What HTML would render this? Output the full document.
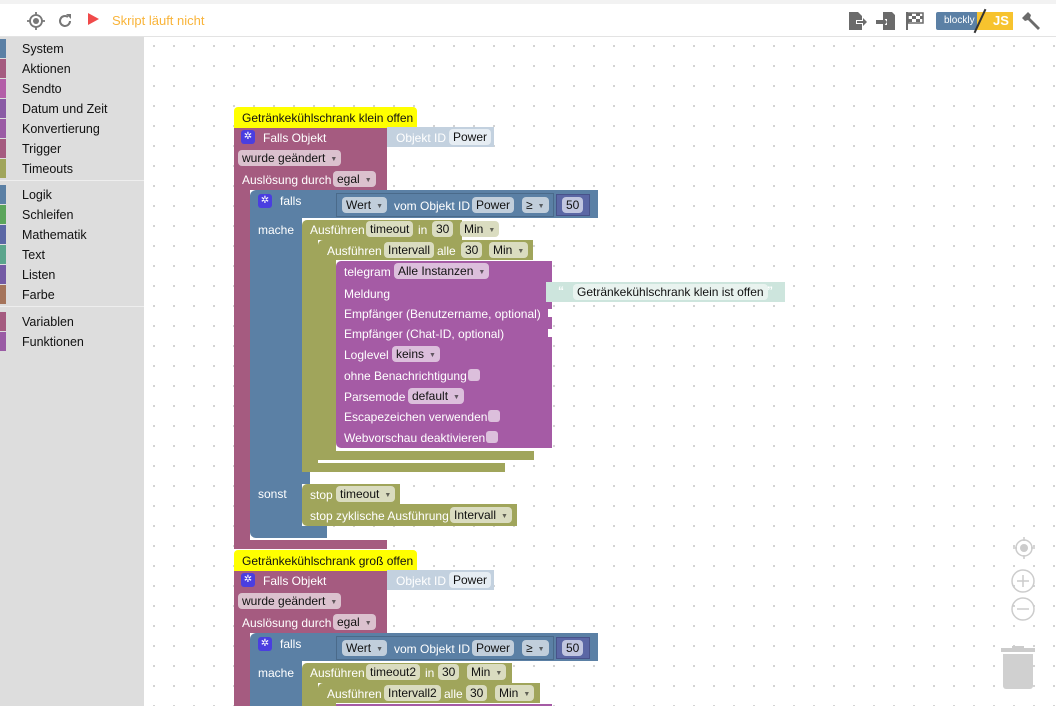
<!DOCTYPE html>
<html style="overflow:hidden"><head><meta charset="utf-8"><style>
*{box-sizing:border-box;margin:0;padding:0}
html,body{width:1056px;height:706px;overflow:hidden}
body{position:relative;background:#fff;font-family:"Liberation Sans",Arial,sans-serif;font-size:12px}
.a{position:absolute}
#ws{position:absolute;left:144px;top:37px;right:0;bottom:0;background-color:#fff;background-image:radial-gradient(circle,#ccc 0.9px,transparent 1.2px);background-size:20px 20px;background-position:0px -1px}
#top{position:absolute;left:0;top:4px;width:1056px;height:33px;background:#fff;border-bottom:1px solid #e3e3e3}
#strip{position:absolute;left:0;top:0;width:1056px;height:4px;background:#f2f2f2}
#side{position:absolute;left:0;top:37px;width:144px;height:669px;background:#dddddd}
.cat{position:absolute;left:0;height:20px;width:144px}
.cat i{position:absolute;left:0;top:0;width:6px;height:19px}
.cat span{position:absolute;left:22px;top:3px;font-size:12.5px;color:#111}
.sep{position:absolute;left:0;width:144px;height:1px;background:#eee}
.t{position:absolute;color:#fff;font-size:12px;white-space:nowrap;line-height:14px}
.f{position:absolute;height:16px;border-radius:4px;color:#111;font-size:12px;line-height:16px;padding:0 4px;white-space:nowrap}
.f b{font-weight:normal;font-size:7px;margin-left:5px;opacity:.6;vertical-align:1px}
.m{background:#a55b80}.bl{background:#5b80a5}.ol{background:#a0a55b}.pu{background:#a55ba5}
.fm{background:#dbc1ce}.fb{background:#c1cedb}.fo{background:#dadcc0}.fp{background:#dcbfdc}
.gear{position:absolute;width:14px;height:14px;background:#4a3ee0;border-radius:3px;color:#fff;font-size:10px;line-height:14px;text-align:center}
.cb{position:absolute;width:12px;height:12px;background:#dcbfdc;border-radius:3px}
</style></head><body>
<div id="ws"></div>
<div id="strip"></div>
<div id="top">
 <svg class="a" style="left:26px;top:7px" width="20" height="20" viewBox="0 0 20 20"><circle cx="10" cy="10" r="6" fill="none" stroke="#777" stroke-width="1.8"/><circle cx="10" cy="10" r="3" fill="#777"/><path d="M10 1v3M10 16v3M1 10h3M16 10h3" stroke="#777" stroke-width="1.8"/></svg>
 <svg class="a" style="left:56px;top:8px" width="18" height="18" viewBox="0 0 18 18"><path d="M14 9a5 5 0 1 1-2-4" fill="none" stroke="#777" stroke-width="2"/><path d="M10 2h5v5z" fill="#777"/></svg>
 <div class="a" style="left:88px;top:9px;width:0;height:0;border-left:11px solid #f04a4a;border-top:6px solid transparent;border-bottom:6px solid transparent"></div>
 <div class="a" style="left:112px;top:9px;font-size:13px;color:#f9b43a">Skript läuft nicht</div>
 <svg class="a" style="left:847px;top:7px" width="20" height="20" viewBox="0 0 20 20"><path d="M2 1h9l4 4v4h-6v4h6v6H2z" fill="#6b6b6b"/><path d="M10 10h6v-3l4 4-4 4v-3h-6z" fill="#6b6b6b"/></svg>
 <svg class="a" style="left:876px;top:7px" width="20" height="20" viewBox="0 0 20 20"><path d="M7 1h9l3 3v15H7v-5h4v-6H7z" fill="#6b6b6b"/><path d="M0 9h7V6l4 5-4 5v-3H0z" fill="#6b6b6b"/></svg>
 <svg class="a" style="left:905px;top:7px" width="20" height="20" viewBox="0 0 20 20"><path d="M2 1v18" stroke="#6b6b6b" stroke-width="2"/><path d="M3 2h15v10H3z" fill="none" stroke="#6b6b6b" stroke-width="1.5"/><path d="M3 2h4v3H3zM11 2h4v3h-4zM7 5h4v3H7zM15 5h3v3h-3zM3 8h4v3H3zM11 8h4v3h-4z" fill="#6b6b6b"/></svg>
 <div class="a" style="left:936px;top:8px;width:46px;height:18px;background:#5b80a5;border-radius:2px;color:#fff;font-size:10px;line-height:18px;padding-left:8px">blockly</div>
 <div class="a" style="left:977px;top:8px;width:36px;height:18px;background:#f7c32e;color:#fff;font-weight:bold;font-size:13px;line-height:18px;padding-left:16px">JS</div>
 <div class="a" style="left:979px;top:4px;width:2px;height:26px;background:#333;transform:rotate(25deg)"></div>
 <svg class="a" style="left:1022px;top:7px" width="20" height="20" viewBox="0 0 20 20"><path d="M3 4l3-3 3 3-1 3 10 10-2 2L6 9 3 10 0 7l3-3z" fill="#6b6b6b"/></svg>
</div>
<div id="side">
 <div class="cat" style="top:2px"><i style="background:#5b80a5"></i><span>System</span></div>
 <div class="cat" style="top:22px"><i style="background:#a55b80"></i><span>Aktionen</span></div>
 <div class="cat" style="top:42px"><i style="background:#b35ea8"></i><span>Sendto</span></div>
 <div class="cat" style="top:62px"><i style="background:#8a5ba5"></i><span>Datum und Zeit</span></div>
 <div class="cat" style="top:82px"><i style="background:#9b5ba5"></i><span>Konvertierung</span></div>
 <div class="cat" style="top:102px"><i style="background:#a55b80"></i><span>Trigger</span></div>
 <div class="cat" style="top:122px"><i style="background:#a0a55b"></i><span>Timeouts</span></div>
 <div class="sep" style="top:143px"></div>
 <div class="cat" style="top:148px"><i style="background:#5b80a5"></i><span>Logik</span></div>
 <div class="cat" style="top:168px"><i style="background:#5ba55b"></i><span>Schleifen</span></div>
 <div class="cat" style="top:188px"><i style="background:#5b67a5"></i><span>Mathematik</span></div>
 <div class="cat" style="top:208px"><i style="background:#5ba58c"></i><span>Text</span></div>
 <div class="cat" style="top:228px"><i style="background:#745ba5"></i><span>Listen</span></div>
 <div class="cat" style="top:248px"><i style="background:#a5745b"></i><span>Farbe</span></div>
 <div class="sep" style="top:269px"></div>
 <div class="cat" style="top:275px"><i style="background:#a55b80"></i><span>Variablen</span></div>
 <div class="cat" style="top:295px"><i style="background:#9a5ba5"></i><span>Funktionen</span></div>
</div>

<div class="a" style="left:0;top:0;width:1056px;height:706px;overflow:hidden">
 <div class="a m" style="left:234px;top:127px;width:153px;height:63px"></div>
 <div class="a m" style="left:234px;top:190px;width:16px;height:350px"></div>
 <div class="a m" style="left:234px;top:540px;width:153px;height:9px"></div>
 <div class="a" style="left:234px;top:107px;width:183px;height:21px;background:#ffff00;border-radius:4px 4px 0 0"><span class="a" style="left:8px;top:4px;color:#111">Getränkekühlschrank klein offen</span></div>
 <div class="gear" style="left:241px;top:130px">✲</div>
 <div class="t" style="left:263px;top:131px">Falls Objekt</div>
 <div class="a" style="left:387px;top:127px;width:107px;height:20px;background:#c3d1df"></div>
 <div class="t" style="left:396px;top:131px;color:#fff">Objekt ID</div>
 <div class="f" style="left:449px;top:129px;background:#e6edf3">Power</div>
 <div class="f fm" style="left:238px;top:150px">wurde geändert<b>▼</b></div>
 <div class="t" style="left:242px;top:173px">Auslösung durch</div>
 <div class="f fm" style="left:333px;top:171px">egal<b>▼</b></div>
 <div class="a bl" style="left:250px;top:190px;width:348px;height:28px;border-radius:6px 0 0 0"></div>
 <div class="a bl" style="left:250px;top:218px;width:52px;height:266px"></div>
 <div class="a bl" style="left:250px;top:472px;width:60px;height:12px"></div>
 <div class="a bl" style="left:250px;top:484px;width:52px;height:44px"></div>
 <div class="a bl" style="left:250px;top:526px;width:77px;height:12px;border-radius:0 0 0 6px"></div>
 <div class="gear" style="left:258px;top:194px">✲</div>
 <div class="t" style="left:280px;top:194px">falls</div>
 <div class="t" style="left:258px;top:223px">mache</div>
 <div class="t" style="left:258px;top:487px">sonst</div>
 <div class="a" style="left:336px;top:193px;width:218px;height:24px;border:1px solid #4a6a8a;background:#5b80a5"></div>
 <div class="f fb" style="left:342px;top:197px">Wert<b>▼</b></div>
 <div class="t" style="left:394px;top:199px">vom Objekt ID</div>
 <div class="f fb" style="left:472px;top:197px">Power</div>
 <div class="f fb" style="left:522px;top:197px">≥<b>▼</b></div>
 <div class="a" style="left:556px;top:194px;width:34px;height:22px;background:#5b67a5;border:1px solid #48528a"></div>
 <div class="f" style="left:562px;top:197px;background:#c1c6e0">50</div>
 <div class="a ol" style="left:302px;top:220px;width:160px;height:20px;border-radius:5px 0 0 0"></div>
 <div class="a ol" style="left:302px;top:240px;width:16px;height:232px"></div>
 <div class="a ol" style="left:302px;top:463px;width:203px;height:9px"></div>
 <div class="t" style="left:310px;top:223px">Ausführen</div>
 <div class="f fo" style="left:366px;top:221px">timeout</div>
 <div class="t" style="left:418px;top:223px">in</div>
 <div class="f fo" style="left:432px;top:221px">30</div>
 <div class="f fo" style="left:460px;top:221px">Min<b>▼</b></div>
 <div class="a ol" style="left:318px;top:240px;width:215px;height:20px;border-radius:5px 0 0 0"></div>
 <div class="a ol" style="left:318px;top:260px;width:18px;height:200px"></div>
 <div class="a ol" style="left:318px;top:451px;width:216px;height:9px"></div>
 <div class="t" style="left:327px;top:244px">Ausführen</div>
 <div class="f fo" style="left:384px;top:242px">Intervall</div>
 <div class="t" style="left:437px;top:244px">alle</div>
 <div class="f fo" style="left:461px;top:242px">30</div>
 <div class="f fo" style="left:489px;top:242px">Min<b>▼</b></div>
 <div class="a pu" style="left:336px;top:261px;width:216px;height:187px;border-radius:5px 0 0 5px"></div>
 <div class="t" style="left:344px;top:265px">telegram</div>
 <div class="f fp" style="left:394px;top:263px">Alle Instanzen<b>▼</b></div>
 <div class="t" style="left:344px;top:287px">Meldung</div>
 <div class="t" style="left:344px;top:307px">Empfänger (Benutzername, optional)</div>
 <div class="t" style="left:344px;top:327px">Empfänger (Chat-ID, optional)</div>
 <div class="t" style="left:344px;top:348px">Loglevel</div>
 <div class="f fp" style="left:392px;top:346px">keins<b>▼</b></div>
 <div class="t" style="left:344px;top:369px">ohne Benachrichtigung</div>
 <div class="cb" style="left:468px;top:369px"></div>
 <div class="t" style="left:344px;top:390px">Parsemode</div>
 <div class="f fp" style="left:408px;top:388px">default<b>▼</b></div>
 <div class="t" style="left:344px;top:410px">Escapezeichen verwenden</div>
 <div class="cb" style="left:488px;top:410px"></div>
 <div class="t" style="left:344px;top:431px">Webvorschau deaktivieren</div>
 <div class="cb" style="left:486px;top:431px"></div>
 <div class="a" style="left:548px;top:309px;width:4px;height:8px;background:#fff"></div>
 <div class="a" style="left:548px;top:329px;width:4px;height:8px;background:#fff"></div>
 <div class="a" style="left:546px;top:282px;width:239px;height:20px;background:#cde5dd"></div>
 <div class="t" style="left:558px;top:284px;font-weight:bold;color:#fff">“</div>
 <div class="f" style="left:573px;top:284px;background:#e9f3ef">Getränkekühlschrank klein ist offen</div>
 <div class="t" style="left:767px;top:284px;font-weight:bold;color:#fff">”</div>
 <div class="a ol" style="left:302px;top:484px;width:98px;height:20px;border-radius:5px 0 0 0"></div>
 <div class="t" style="left:310px;top:488px">stop</div>
 <div class="f fo" style="left:336px;top:486px">timeout<b>▼</b></div>
 <div class="a ol" style="left:302px;top:504px;width:215px;height:22px;border-radius:0 0 0 5px"></div>
 <div class="t" style="left:310px;top:509px">stop zyklische Ausführung</div>
 <div class="f fo" style="left:450px;top:507px">Intervall<b>▼</b></div>
</div>

<div class="a" style="left:0;top:443px;width:1056px;height:263px;overflow:hidden">
 <div class="a m" style="left:234px;top:127px;width:153px;height:63px"></div>
 <div class="a m" style="left:234px;top:190px;width:16px;height:73px"></div>
 <div class="a" style="left:234px;top:107px;width:183px;height:21px;background:#ffff00;border-radius:4px 4px 0 0"><span class="a" style="left:8px;top:4px;color:#111">Getränkekühlschrank groß offen</span></div>
 <div class="gear" style="left:241px;top:130px">✲</div>
 <div class="t" style="left:263px;top:131px">Falls Objekt</div>
 <div class="a" style="left:387px;top:127px;width:107px;height:20px;background:#c3d1df"></div>
 <div class="t" style="left:396px;top:131px;color:#fff">Objekt ID</div>
 <div class="f" style="left:449px;top:129px;background:#e6edf3">Power</div>
 <div class="f fm" style="left:238px;top:150px">wurde geändert<b>▼</b></div>
 <div class="t" style="left:242px;top:173px">Auslösung durch</div>
 <div class="f fm" style="left:333px;top:171px">egal<b>▼</b></div>
 <div class="a bl" style="left:250px;top:190px;width:348px;height:28px;border-radius:6px 0 0 0"></div>
 <div class="a bl" style="left:250px;top:218px;width:52px;height:45px"></div>
 <div class="gear" style="left:258px;top:194px">✲</div>
 <div class="t" style="left:280px;top:194px">falls</div>
 <div class="t" style="left:258px;top:223px">mache</div>
 <div class="a" style="left:336px;top:193px;width:218px;height:24px;border:1px solid #4a6a8a;background:#5b80a5"></div>
 <div class="f fb" style="left:342px;top:197px">Wert<b>▼</b></div>
 <div class="t" style="left:394px;top:199px">vom Objekt ID</div>
 <div class="f fb" style="left:472px;top:197px">Power</div>
 <div class="f fb" style="left:522px;top:197px">≥<b>▼</b></div>
 <div class="a" style="left:556px;top:194px;width:34px;height:22px;background:#5b67a5;border:1px solid #48528a"></div>
 <div class="f" style="left:562px;top:197px;background:#c1c6e0">50</div>
 <div class="a ol" style="left:302px;top:220px;width:210px;height:20px;border-radius:5px 0 0 0"></div>
 <div class="a ol" style="left:302px;top:240px;width:16px;height:23px"></div>
 <div class="t" style="left:310px;top:223px">Ausführen</div>
 <div class="f fo" style="left:366px;top:221px">timeout2</div>
 <div class="t" style="left:425px;top:223px">in</div>
 <div class="f fo" style="left:438px;top:221px">30</div>
 <div class="f fo" style="left:467px;top:221px">Min<b>▼</b></div>
 <div class="a ol" style="left:318px;top:240px;width:222px;height:20px;border-radius:5px 0 0 0"></div>
 <div class="a ol" style="left:318px;top:260px;width:18px;height:3px"></div>
 <div class="t" style="left:327px;top:244px">Ausführen</div>
 <div class="f fo" style="left:384px;top:242px">Intervall2</div>
 <div class="t" style="left:444px;top:244px">alle</div>
 <div class="f fo" style="left:466px;top:242px">30</div>
 <div class="f fo" style="left:495px;top:242px">Min<b>▼</b></div>
 <div class="a pu" style="left:336px;top:261px;width:216px;height:2px"></div>
</div>

<svg class="a" style="left:1010px;top:534px" width="28" height="28" viewBox="0 0 28 28"><circle cx="14" cy="14" r="8" fill="none" stroke="#ccc" stroke-width="1.5"/><circle cx="14" cy="14" r="4" fill="#ccc"/><path d="M14 3v4M14 21v4M3 14h4M21 14h4" stroke="#ccc" stroke-width="1.5"/></svg>
<svg class="a" style="left:1010px;top:568px" width="28" height="56" viewBox="0 0 28 56"><circle cx="13" cy="13" r="11" fill="none" stroke="#ccc" stroke-width="1.5"/><path d="M7 13h12M13 7v12" stroke="#ccc" stroke-width="1.5"/><circle cx="13" cy="41" r="11" fill="none" stroke="#ccc" stroke-width="1.5"/><path d="M7 41h12" stroke="#ccc" stroke-width="1.5"/></svg>
<svg class="a" style="left:1000px;top:642px" width="36" height="48" viewBox="0 0 36 48"><path d="M1 6h34v4H1z" fill="#ccc"/><path d="M12 4h12v3H12z" fill="#ccc"/><path d="M3 12h30v32a3 3 0 0 1-3 3H6a3 3 0 0 1-3-3z" fill="#d0d0d0"/></svg>
</body></html>
